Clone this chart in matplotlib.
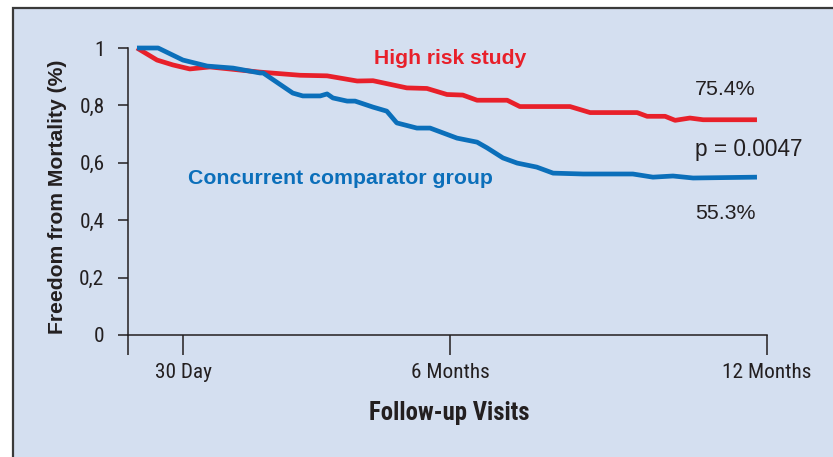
import matplotlib
matplotlib.use("Agg")
import matplotlib.pyplot as plt
from matplotlib.patches import Rectangle

# Data (months of follow-up, freedom from mortality)
redMonths = [0.07, 0.45, 0.75, 1.07, 1.45, 2.40, 3.16, 3.67, 4.24, 4.54, 5.18, 5.56, 5.94,
             6.24, 6.51, 7.08, 7.32, 8.27, 8.65, 9.54, 9.73, 10.07, 10.26, 10.54, 10.79, 11.81]
redValues = [1.0, 0.958, 0.941, 0.927, 0.934, 0.916, 0.905, 0.903, 0.885, 0.886, 0.861, 0.859, 0.838,
             0.836, 0.818, 0.818, 0.796, 0.796, 0.775, 0.775, 0.762, 0.762, 0.748, 0.756, 0.750, 0.750]

blueMonths = [0.07, 0.47, 0.94, 1.40, 1.89, 2.40, 2.46, 3.02, 3.21, 3.54, 3.67, 3.78, 4.05, 4.20,
              4.54, 4.80, 4.99, 5.37, 5.62, 6.13, 6.51, 6.70, 7.00, 7.27, 7.64, 7.95, 8.52, 9.46,
              9.84, 10.22, 10.60, 11.81]
blueValues = [1.0, 1.0, 0.958, 0.937, 0.930, 0.913, 0.913, 0.843, 0.833, 0.833, 0.840, 0.826, 0.815, 0.815,
              0.794, 0.780, 0.739, 0.721, 0.721, 0.686, 0.672, 0.652, 0.617, 0.599, 0.585, 0.564, 0.561, 0.561,
              0.550, 0.554, 0.547, 0.550]

xTicks = [-0.1, 0.95, 6, 12]
xTickLabels = ["", "30 Day", "6 Months", "12 Months"]
yTicks = [0, 0.2, 0.4, 0.6, 0.8, 1]
yTickLabels = ["0", "0,2", "0,4", "0,6", "0,8", "1"]

RED = "#e8202a"
BLUE = "#0b6fba"
BG = "#d4dff0"
INK = "#231f20"
NARROW = ["Roboto Condensed", "DejaVu Sans"]
SANS = ["Liberation Sans", "DejaVu Sans"]

W, H = 833, 457
fig = plt.figure(figsize=(W / 100, H / 100), dpi=100, facecolor="white")

# light blue panel with dark border (cut at right/bottom)
fig.patches.append(Rectangle((13 / W, -0.05), 1.1, 1 - 8 / H + 0.05, transform=fig.transFigure,
                             facecolor=BG, edgecolor="#3a3a3a", lw=1.6, zorder=-10))

ax = fig.add_axes([128 / W, 1 - 335 / H, 639 / W, 287 / H])
ax.set_facecolor("none")
ax.set_xlim(-0.1, 12)
ax.set_ylim(0, 1)

ax.plot(redMonths, redValues, color=RED, lw=3.4, clip_on=False, solid_capstyle="butt", zorder=3)
ax.plot(blueMonths, blueValues, color=BLUE, lw=3.4, clip_on=False, solid_capstyle="butt", zorder=3)

for s in ["top", "right"]:
    ax.spines[s].set_visible(False)
for s in ["left", "bottom"]:
    ax.spines[s].set_color(INK)
    ax.spines[s].set_linewidth(1.1)

ax.set_xticks(xTicks)
ax.set_xticklabels(xTickLabels, family=NARROW, fontsize=15.3, color=INK)
ax.set_yticks(yTicks)
ax.set_yticklabels(yTickLabels, family=NARROW, fontsize=15.3, color=INK)
ax.tick_params(axis="x", direction="out", length=14.5, width=1.1, color=INK, pad=6)
ax.tick_params(axis="y", direction="out", length=7, width=1.1, color=INK, pad=10)

ax.text(6.0, 0.962, "High risk study", color=RED, fontsize=15.2, fontweight="bold",
        family=SANS, ha="center", va="center")
ax.text(1.04, 0.547, "Concurrent comparator group", color=BLUE, fontsize=15.3, fontweight="bold",
        family=SANS, ha="left", va="center")
ax.text(10.64, 0.854, "75.4%", color=INK, fontsize=15.4, family=SANS, ha="left", va="center")
ax.text(10.64, 0.645, "p = 0.0047", color=INK, fontsize=16.3, family=SANS, ha="left", va="center")
ax.text(10.64, 0.425, "55.3%", color=INK, fontsize=15.4, family=SANS, ha="left", va="center")

ax.text(-0.111, 0.481, "Freedom from Mortality (%)", transform=ax.transAxes, rotation=90,
        fontsize=15.2, fontweight="bold", family=SANS, color=INK, ha="center", va="center")
ax.text(0.502, -0.272, "Follow-up Visits", transform=ax.transAxes,
        fontsize=17.8, fontweight="bold", family=NARROW, color=INK, ha="center", va="center")

fig.savefig("out.png", dpi=100, facecolor="white")
